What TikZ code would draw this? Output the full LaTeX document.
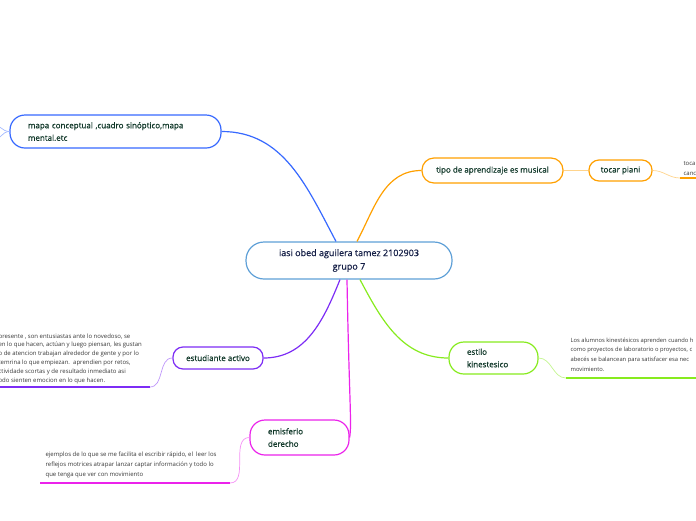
\documentclass[tikz,border=0pt]{standalone}
\usepackage{fontspec}
\setmainfont{Open Sans}
\newfontfamily\topicfont{Open Sans}[FakeBold=0.45]
\usetikzlibrary{positioning}
\definecolor{mmcentre}{RGB}{95,160,215}
\definecolor{mmblue}{RGB}{55,105,255}
\definecolor{mmorange}{RGB}{255,160,0}
\definecolor{mmlime}{RGB}{135,235,30}
\definecolor{mmpurple}{RGB}{125,45,245}
\definecolor{mmpink}{RGB}{235,35,235}
\definecolor{mmtext}{RGB}{15,55,40}
\definecolor{mmnavy}{RGB}{20,30,70}
\definecolor{mmnote}{RGB}{55,55,55}

\begin{document}
\begin{tikzpicture}[x=1pt,y=-1pt,line width=1.2pt,
  topic/.style={draw,fill=white,text=mmtext,inner sep=0pt,line width=1.2pt,
    font=\topicfont\fontsize{8}{12.5}\selectfont},
  note/.style={anchor=north west,inner sep=0pt,text=mmnote,align=left,
    font=\fontsize{6}{9.5}\selectfont},
  twig/.style={line width=0.7pt},
  under/.style={line width=2pt}]
  \useasboundingbox (0,0) rectangle (696,520);
  \clip (0,0) rectangle (696,520);

  \node[topic,draw=mmcentre,text=mmnavy,rounded corners=18pt,minimum width=206pt,
    minimum height=37pt,align=center,font=\topicfont\fontsize{9}{13.5}\selectfont]
    (centre) at (349,260.5) {iasi obed aguilera tamez 2102903\\grupo 7};
  \node[topic,draw=mmblue,rounded corners=15pt,minimum width=211pt,minimum height=33pt,
    text width=175pt,align=left] (mapa) at (115.5,131.5)
    {mapa conceptual ,cuadro sinóptico,mapa\\mental.etc};
  \node[topic,draw=mmorange,rounded corners=12pt,minimum width=141pt,minimum height=25pt]
    (tipo) at (492.5,170.5) {tipo de aprendizaje es musical};
  \node[topic,draw=mmorange,rounded corners=10pt,minimum width=63pt,minimum height=21pt]
    (piano) at (620.5,170.5) {tocar piani};
  \node[topic,draw=mmlime,rounded corners=15pt,minimum width=89pt,minimum height=32pt,
    text width=53pt,align=left] (estilo) at (493.5,358) {estilo\\kinestesico};
  \node[topic,draw=mmpurple,rounded corners=10pt,minimum width=90pt,minimum height=22pt]
    (activo) at (218,358) {estudiante activo};
  \node[topic,draw=mmpink,rounded corners=15pt,minimum width=99pt,minimum height=35pt,
    text width=63pt,align=left] (hemi) at (299.5,437.5) {emisferio\\derecho};

  \coordinate (mapafar1) at (-8,124);
  \coordinate (mapafar2) at (-8,141);
  \coordinate (pianotip) at (680,178);
  \coordinate (kinetip) at (566,378);
  \coordinate (activotip) at (150,387);
  \coordinate (hemitip) at (230,483);

  \draw[mmblue] ([xshift=-13pt]centre.north) to[out=118,in=0] (mapa.east);
  \draw[mmorange] ([xshift=8pt]centre.north) to[out=62,in=180] (tipo.west);
  \draw[mmlime] ([xshift=11pt]centre.south) to[out=-62,in=180] (estilo.west);
  \draw[mmpurple] ([xshift=-9pt]centre.south) to[out=-112,in=0] (activo.east);
  \draw[mmpink] ([xshift=-2pt]centre.south) .. controls (349,395) and (352,425) .. (hemi.east);

  \draw[mmblue!45,twig] (mapa.west) to[out=180,in=0] (mapafar1);
  \draw[mmblue!45,twig] (mapa.west) to[out=180,in=0] (mapafar2);
  \draw[mmorange!45,twig] (tipo.east) -- (piano.west);
  \draw[mmorange!45,twig] (piano.east) to[out=0,in=180] (pianotip);
  \draw[mmorange,under] (pianotip) -- (700,178);
  \draw[mmlime!50,twig] (estilo.east) to[out=0,in=180] (kinetip);
  \draw[mmlime,under] (kinetip) -- (700,378);
  \draw[mmpurple!50,twig] (activo.west) to[out=180,in=0] (activotip);
  \draw[mmpurple,under] (activotip) -- (-5,387);
  \draw[mmpink!50,twig] (hemi.west) to[out=180,in=0] (hemitip);
  \draw[mmpink,under] (hemitip) -- (40,483);

  \node[note] (pianonote) at (683,161) {toca\\canc};
  \node[note,font=\fontsize{5.8}{9.7}\selectfont] (kinenote) at (570,337)
    {Los alumnos kinestésicos aprenden cuando h\\como proyectos de laboratorio o proyectos, c\\abecés se balancean para satisfacer esa nec\\movimiento.};
  \node[note,font=\fontsize{6}{8.8}\selectfont] (activonote) at (-2,333)
    {presente , son entusiastas ante lo novedoso, se\\en lo que hacen, actúan y luego piensan, les gustan\\o de atencion trabajan alrededor de gente y por lo\\temrina lo que empiezan.\ \ aprendien por retos,\\ctividade scortas y de resultado inmediato asi\\odo sienten emocion en lo que hacen.};
  \node[note,font=\fontsize{6}{10.2}\selectfont] (heminote) at (45,451)
    {ejemplos de lo que se me facilita el escribir rápido, el\ \ leer los\\reflejos motrices atrapar lanzar captar información y todo lo\\que tenga que ver con movimiento};
\end{tikzpicture}
\end{document}
